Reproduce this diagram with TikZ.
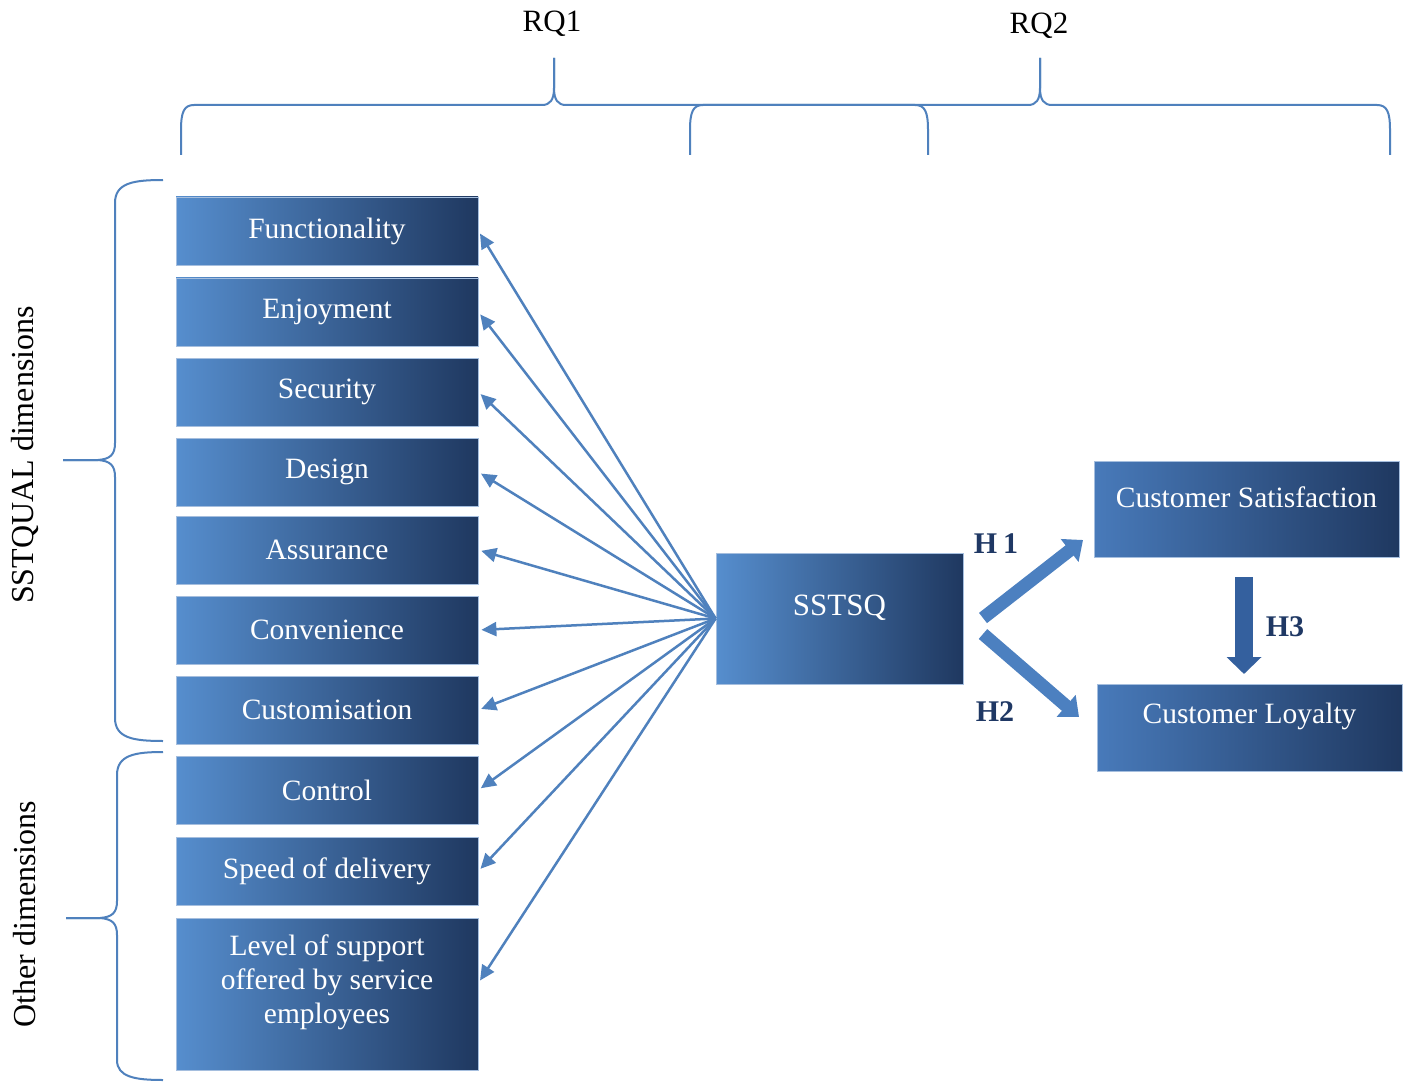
\documentclass[tikz,border=0pt]{standalone}
\usepackage{fontspec}
\setmainfont{Liberation Serif}
\usetikzlibrary{arrows.meta}

\definecolor{lineblue}{RGB}{79,129,189}
\definecolor{boxlight}{RGB}{86,142,206}
\definecolor{boxdark}{RGB}{31,56,96}
\definecolor{boxedge}{RGB}{165,190,222}
\definecolor{reslight}{RGB}{72,122,186}
\definecolor{hnavy}{RGB}{31,56,100}
\definecolor{thickblue}{RGB}{76,128,192}
\definecolor{hthreeblue}{RGB}{52,96,158}

\tikzset{
  boxtext/.style={text=white, font=\fontsize{29.5}{34}\selectfont, inner sep=0pt},
  dimbox/.style={left color=boxlight, right color=boxdark, draw=boxedge, line width=0.8pt,
    minimum width=302pt, minimum height=68pt, inner sep=0pt, boxtext},
  resbox/.style={left color=reslight, right color=boxdark, draw=boxedge, line width=0.8pt,
    minimum width=305pt, inner sep=0pt},
  thinarrow/.style={draw=lineblue, line width=2.5pt, shorten >=3pt,
    -{Triangle[length=15pt,width=14pt]}},
  fatarrow/.style={draw=thickblue, line width=13pt,
    -{Triangle[length=17pt,width=28pt]}},
  downarrow/.style={draw=hthreeblue, line width=18pt,
    -{Triangle[length=17pt,width=34pt]}},
  hlabel/.style={text=hnavy, font=\bfseries\fontsize{30}{36}\selectfont},
  plainlabel/.style={text=black, font=\fontsize{31}{36}\selectfont},
  sidelabel/.style={text=black, font=\fontsize{32}{38}\selectfont, rotate=90},
  braceline/.style={draw=lineblue, line width=2pt, line join=round}
}

\begin{document}
\begin{tikzpicture}[x=1pt,y=-1pt]
\useasboundingbox (0,0) rectangle (1405,1083);
\fill[white] (0,0) rectangle (1405,1083);

% service quality dimensions
\node[dimbox] (fun) at (327,231) {Functionality};
\node[dimbox] (enj) at (327,312) {Enjoyment};
\node[dimbox] (sec) at (327,392) {Security};
\node[dimbox] (des) at (327,472) {Design};
\node[dimbox] (ass) at (327,550) {Assurance};
\node[dimbox] (con) at (327,630) {Convenience};
\node[dimbox] (cus) at (327,710) {Customisation};
\node[dimbox] (ctl) at (327,790) {Control};
\node[dimbox] (spd) at (327,871) {Speed of delivery};
\node[dimbox, minimum height=152pt] (lvl) at (327,994) {};
\node[boxtext, align=center] (lvltxt) at ([yshift=12pt]lvl.center)
  {Level of support\\offered by service\\employees};

% central construct
\node[dimbox, minimum width=247pt, minimum height=131pt] (sq) at (839.5,618.5) {};
\node[boxtext, font=\fontsize{31}{36}\selectfont] (sqtxt) at ([yshift=11pt]sq.center) {SSTSQ};

% outcomes
\node[resbox, minimum height=96pt] (cs) at (1246.5,509) {};
\node[boxtext] (cstxt) at ([yshift=12pt]cs.center) {Customer Satisfaction};
\node[resbox, minimum height=87pt] (cl) at (1249.5,727.5) {};
\node[boxtext] (cltxt) at ([yshift=11pt]cl.center) {Customer Loyalty};

% arrows from SSTSQ to each dimension
\foreach \t in {fun,enj,sec,des,ass,con,cus,ctl,spd}
  \draw[thinarrow] (sq.west) -- (\t.east);
\draw[thinarrow] (sq.west) -- ([yshift=11pt]lvl.east);

% hypotheses
\coordinate (h1s) at (983,618);
\coordinate (h1e) at (1083,540);
\coordinate (h2s) at (983,634);
\coordinate (h2e) at (1079,717);
\coordinate (h3s) at (1244,577);
\coordinate (h3e) at (1244,674);
\draw[fatarrow] (h1s) -- (h1e);
\draw[fatarrow] (h2s) -- (h2e);
\draw[downarrow] (h3s) -- (h3e);
\node[hlabel] (lh1) at (996,544) {H\hspace{6pt}1};
\node[hlabel] (lh2) at (995,712) {H2};
\node[hlabel] (lh3) at (1285,627) {H3};

% research questions
\node[plainlabel] (rq1) at (552,24) {RQ1};
\node[plainlabel] (rq2) at (1039,26) {RQ2};

% brace over RQ1
\draw[braceline] (181,155) -- (181,130) .. controls (181,112) and (184,105) .. (194,105)
  -- (542,105) .. controls (550,105) and (554,100) .. (554,88) -- (554,58);
\draw[braceline] (554,58) -- (554,88) .. controls (554,100) and (558,105) .. (566,105)
  -- (915,105) .. controls (925,105) and (928,112) .. (928,130) -- (928,155);
% brace over RQ2
\draw[braceline] (690,155) -- (690,130) .. controls (690,112) and (693,105) .. (703,105)
  -- (1028,105) .. controls (1036,105) and (1040,100) .. (1040,88) -- (1040,58);
\draw[braceline] (1040,58) -- (1040,88) .. controls (1040,100) and (1044,105) .. (1052,105)
  -- (1377,105) .. controls (1387,105) and (1390,112) .. (1390,130) -- (1390,155);

% side braces
\draw[braceline] (163,180) .. controls (133,180) and (115,183) .. (115,203)
  -- (115,443) .. controls (115,455) and (110,459) .. (98,460) -- (63,460);
\draw[braceline] (63,460) -- (98,460) .. controls (110,461) and (115,465) .. (115,477)
  -- (115,718) .. controls (115,738) and (133,741) .. (163,741);
\draw[braceline] (163,752) .. controls (135,752) and (117,755) .. (117,775)
  -- (117,901) .. controls (117,913) and (112,917) .. (100,918) -- (66,918);
\draw[braceline] (66,918) -- (100,918) .. controls (112,919) and (117,923) .. (117,935)
  -- (117,1060) .. controls (117,1077) and (135,1080) .. (163,1080);

\node[sidelabel] (lsst) at (25,455) {SSTQUAL dimensions};
\node[sidelabel] (loth) at (25,914) {Other dimensions};
\end{tikzpicture}
\end{document}
